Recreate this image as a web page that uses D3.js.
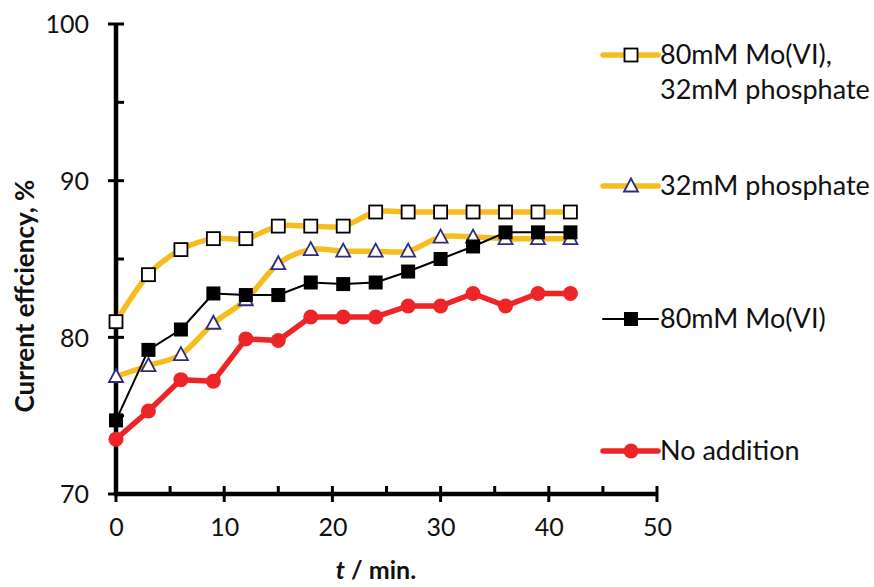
<!DOCTYPE html>
<html>
<head>
<meta charset="utf-8">
<script src="https://cdn.jsdelivr.net/npm/d3@7"></script>
<style>
  html, body { margin: 0; padding: 0; background: #fff; }
  svg { display: block; }
  text { font-family: Lato, "Open Sans", sans-serif; fill: #111; }
</style>
</head>
<body>
<svg id="chart" width="874" height="587"></svg>
<script>
// Time points, minutes
const times = [0, 3, 6, 9, 12, 15, 18, 21, 24, 27, 30, 33, 36, 39, 42];

// Current efficiency, %
const moPhosphate = [81.0, 84.0, 85.6, 86.3, 86.3, 87.1, 87.1, 87.1, 88.0, 88.0, 88.0, 88.0, 88.0, 88.0, 88.0];
const phosphate   = [77.5, 78.2, 78.9, 80.9, 82.4, 84.7, 85.6, 85.5, 85.5, 85.5, 86.4, 86.4, 86.3, 86.3, 86.3];
const molybdate   = [74.7, 79.2, 80.5, 82.8, 82.7, 82.7, 83.5, 83.4, 83.5, 84.2, 85.0, 85.8, 86.7, 86.7, 86.7];
const noAddition  = [73.5, 75.3, 77.3, 77.2, 79.9, 79.8, 81.3, 81.3, 81.3, 82.0, 82.0, 82.8, 82.0, 82.8, 82.8];

const xTicks = [0, 10, 20, 30, 40, 50];
const yTicks = [70, 80, 90, 100];

const svg = d3.select("#chart");

const x = d3.scaleLinear().domain([0, 50]).range([116, 657]);
const y = d3.scaleLinear().domain([70, 100]).range([494, 24]);

const seriesList = [
  { label: ["80mM Mo(VI),", "32mM phosphate"], values: moPhosphate, line: "#F6BD1E", width: 5.5,
    curve: d3.curveCardinal.tension(0), marker: "openSquare", legendY: 55 },
  { label: ["32mM phosphate"], values: phosphate, line: "#F6BD1E", width: 5.5,
    curve: d3.curveCardinal.tension(0), marker: "triangle", legendY: 186 },
  { label: ["80mM Mo(VI)"], values: molybdate, line: "#000", width: 2,
    curve: d3.curveLinear, marker: "filledSquare", legendY: 319 },
  { label: ["No addition"], values: noAddition, line: "#EE2527", width: 5.5,
    curve: d3.curveLinear, marker: "circle", legendY: 451 }
];

function drawMarker(g, kind) {
  if (kind === "openSquare") {
    g.append("rect").attr("x", -6.5).attr("y", -6.5).attr("width", 13).attr("height", 13)
      .attr("fill", "#fff").attr("stroke", "#000").attr("stroke-width", 1.8);
  } else if (kind === "filledSquare") {
    g.append("rect").attr("x", -7).attr("y", -7).attr("width", 14).attr("height", 14)
      .attr("fill", "#000");
  } else if (kind === "triangle") {
    g.append("path").attr("d", "M0,-7.5 L7,5.5 L-7,5.5 Z")
      .attr("fill", "#fff").attr("stroke", "#2B2C7C").attr("stroke-width", 1.8);
  } else if (kind === "circle") {
    g.append("circle").attr("r", 7.5).attr("fill", "#EE2527");
  }
}

// Axes
const axisG = svg.append("g");
const xAxis = d3.axisBottom(x).tickValues(xTicks).tickFormat(d3.format("d"))
  .tickSizeInner(0).tickSizeOuter(0).tickPadding(0);
const xg = axisG.append("g").attr("transform", "translate(0,494)").call(xAxis);
xg.select(".domain").remove();
xg.selectAll(".tick text").attr("y", 42).attr("dy", "0").style("font-size", "25px")
  .style("font-family", "Lato, sans-serif").attr("fill", "#111");

const yAxis = d3.axisLeft(y).tickValues(yTicks).tickFormat(d3.format("d"))
  .tickSizeInner(0).tickSizeOuter(0).tickPadding(0);
const yg = axisG.append("g").attr("transform", "translate(116,0)").call(yAxis);
yg.select(".domain").remove();
yg.selectAll(".tick text").attr("x", -27).attr("dy", "0.35em").style("font-size", "25px")
  .style("font-family", "Lato, sans-serif").attr("fill", "#111");

// Axis lines and tick marks
const tickG = svg.append("g").attr("stroke", "#000");
d3.range(0, 51, 5).forEach(v => {
  const major = v % 10 === 0;
  tickG.append("line").attr("x1", x(v)).attr("x2", x(v))
    .attr("y1", y(70) - 8).attr("y2", major ? y(70) + 8 : y(70)).attr("stroke-width", 3);
});
d3.range(70, 101, 5).forEach(v => {
  const major = v % 10 === 0;
  tickG.append("line").attr("y1", y(v)).attr("y2", y(v))
    .attr("x1", major ? x(0) - 8 : x(0)).attr("x2", x(0) + 8).attr("stroke-width", 3);
});
tickG.append("line").attr("x1", x(0)).attr("x2", x(0)).attr("y1", y(100)).attr("y2", y(70)).attr("stroke-width", 4.5);
tickG.append("line").attr("x1", x(0) - 2).attr("x2", x(50)).attr("y1", y(70)).attr("y2", y(70)).attr("stroke-width", 4.5);

// Series lines and markers
seriesList.forEach(s => {
  const pts = times.map((t, i) => [t, s.values[i]]);
  const line = d3.line().x(d => x(d[0])).y(d => y(d[1])).curve(s.curve);
  svg.append("path").datum(pts).attr("d", line).attr("fill", "none")
    .attr("stroke", s.line).attr("stroke-width", s.width).attr("stroke-linejoin", "round")
    .attr("stroke-linecap", "round");
  svg.append("g").selectAll("g").data(pts).join("g")
    .attr("transform", d => `translate(${x(d[0])},${y(d[1])})`)
    .each(function () { drawMarker(d3.select(this), s.marker); });
});

// Legend
seriesList.forEach(s => {
  const g = svg.append("g").attr("transform", `translate(0,${s.legendY})`);
  g.append("line").attr("x1", 603).attr("x2", 658).attr("y1", 0).attr("y2", 0)
    .attr("stroke", s.line).attr("stroke-width", s.width).attr("stroke-linecap", "round");
  const m = g.append("g").attr("transform", "translate(631,0)");
  drawMarker(m, s.marker);
  s.label.forEach((txt, i) => {
    g.append("text").attr("x", 660).attr("y", i * 35).attr("dy", "0.35em")
      .style("font-size", "27px").text(txt);
  });
});

// Axis titles
svg.append("text").attr("transform", "translate(34,296) rotate(-90)")
  .attr("text-anchor", "middle").style("font-size", "26px").style("font-weight", "bold")
  .text("Current effciency, %");

const xt = svg.append("text").attr("x", 376).attr("y", 579).attr("text-anchor", "middle")
  .style("font-size", "25px").style("font-weight", "bold");
xt.append("tspan").style("font-style", "italic").text("t");
xt.append("tspan").text(" / min.");
</script>
</body>
</html>
